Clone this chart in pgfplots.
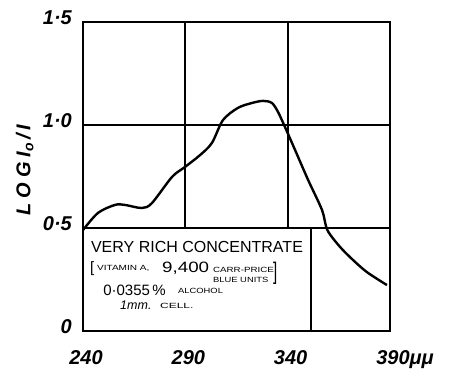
\documentclass[border=0pt]{standalone}
\usepackage{fontspec}
\setmainfont{Liberation Sans}
\usepackage{graphicx}
\usepackage{pgfplots}
\pgfplotsset{compat=1.18}
\newcommand\sm[2][1.3]{\scalebox{#1}[1]{\fontsize{7.5}{8}\selectfont #2}}
\begin{document}
\begin{tikzpicture}
\begin{axis}[
  scale only axis, width=307pt, height=309pt,
  xmin=240, xmax=390, ymin=0, ymax=1.5,
  xtick={240,290,340,390}, ytick={0,0.5,1,1.5},
  xticklabels={240,290,340,390\rlap{μμ}},
  yticklabels={0\hspace{7pt},0·5,1·0,1·5},
  grid=major, major grid style={black, line width=2.1pt},
  axis line style={line width=2.3pt},
  major tick length=0pt,
  tick label style={font=\fontsize{20}{20}\selectfont\bfseries\itshape},
  xticklabel style={anchor=base, inner sep=0pt, yshift=-34pt, xshift=3pt},
  yticklabel style={anchor=east, inner sep=0pt, xshift=-11pt, yshift=4pt},
  ylabel={\fontsize{20}{20}\selectfont\bfseries\itshape L\hspace{5pt}O\hspace{5pt}G\hspace{5pt}I\textsubscript{o}\hspace{3pt}/\hspace{3pt}I},
  ylabel style={at={(axis description cs:-0.19,0.52)}, anchor=center},
  clip=false,
]
\draw[line width=2.1pt, fill=white] (axis cs:240,0) rectangle (axis cs:351.4,0.5);
\addplot[black, line width=2.4pt, smooth, tension=0.5] coordinates {
(240,0.49) (247.3,0.573) (255.6,0.612) (260.5,0.612) (268.8,0.597)
(273.7,0.621) (283.5,0.748) (289.8,0.796) (297.2,0.854) (303,0.913)
(308.4,1.024) (315.7,1.083) (322.6,1.107) (328,1.117) (332.3,1.107)
(335.3,1.063) (338.7,0.99) (343.6,0.879) (350,0.733) (356.8,0.587)
(359.4,0.49) (365.6,0.408) (371.9,0.345) (378.7,0.286) (388.5,0.223)
};
\node[anchor=center, inner sep=0pt] at (axis cs:295.7,0.408) {\fontsize{16}{16}\selectfont VERY RICH CONCENTRATE};
\node[anchor=base west, inner sep=0pt] at (axis cs:243.4,0.286) {\fontsize{15}{15}\selectfont [};
\node[anchor=base west, inner sep=0pt] at (axis cs:246.8,0.296) {\sm[1.34]{VITAMIN A,}};
\node[anchor=base west, inner sep=0pt] at (axis cs:278.6,0.282) {\scalebox{1.25}[1]{\fontsize{15}{15}\selectfont 9,400}};
\node[anchor=base west, inner sep=0pt] at (axis cs:303.5,0.282) {\sm[1.3]{CARR-PRICE}};
\node[anchor=base west, inner sep=0pt] at (axis cs:303.5,0.233) {\sm[1.25]{BLUE UNITS}};
\node[anchor=base west, inner sep=0pt] at (axis cs:332.8,0.248) {\scalebox{1}[1.6]{\fontsize{15}{15}\selectfont ]}};
\node[anchor=base west, inner sep=0pt] at (axis cs:249.8,0.170) {\fontsize{15}{15}\selectfont 0·0355\,\%};
\node[anchor=base west, inner sep=0pt] at (axis cs:286.4,0.184) {\sm[1.25]{ALCOHOL}};
\node[anchor=base west, inner sep=0pt] at (axis cs:258.1,0.102) {\fontsize{12.5}{13}\selectfont\itshape 1mm.};
\node[anchor=base west, inner sep=0pt] at (axis cs:277.6,0.107) {\sm[1.6]{CELL.}};
\end{axis}
\pgfresetboundingbox
\path[use as bounding box] ([xshift=-83pt,yshift=-40pt]current axis.south west) rectangle ([xshift=59pt,yshift=22pt]current axis.north east);
\end{tikzpicture}
\end{document}
